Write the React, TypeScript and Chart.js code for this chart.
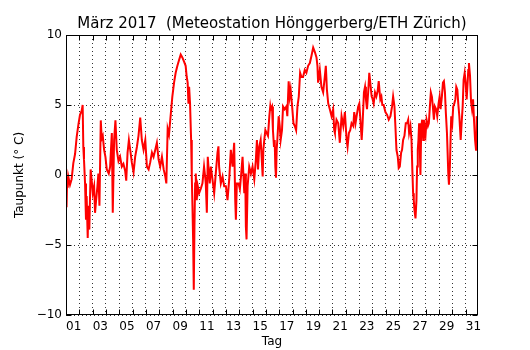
import React, { useEffect, useRef } from 'react';
import { Chart, registerables } from 'chart.js';

Chart.register(...registerables);

// Time in days since 1 March 2017 00:00, dew point in °C
const week1Days = [
  0.00, 0.04, 0.09, 0.13, 0.17, 0.30, 0.42, 0.55, 0.68, 0.80,
  0.93, 1.05, 1.18, 1.25, 1.30, 1.35, 1.43, 1.50, 1.55, 1.63,
  1.68, 1.75, 1.85, 1.93, 2.01, 2.11, 2.18, 2.26, 2.36, 2.43,
  2.51, 2.61, 2.68, 2.76, 2.86, 2.96, 3.06, 3.21, 3.31, 3.44,
  3.51, 3.61, 3.71, 3.81, 3.94, 4.06, 4.19, 4.31, 4.44, 4.52,
  4.62, 4.72, 4.82, 4.94, 5.07, 5.19, 5.32, 5.44, 5.57, 5.69,
  5.82, 5.95, 6.07, 6.20, 6.32, 6.45, 6.57, 6.70, 6.82, 6.95,
  7.07, 7.20, 7.33, 7.45, 7.53, 7.63,
];
const week1Dew = [
  -0.3, -2.3, -0.1, -0.9, -0.1, -0.7, -0.3, 0.85, 1.5, 2.7,
  3.6, 4.3, 4.6, 5.0, 2.0, 1.1, -0.6, -3.2, -1.5, -4.5,
  -2.2, -3.9, 0.4, -0.4, -1.3, -0.8, -2.7, -1.8, -0.8, 0.1,
  -2.2, 3.9, 2.6, 2.8, 1.8, 1.3, 0.4, 0.1, 0.6, 3.0,
  -2.7, 2.5, 3.9, 1.8, 1.0, 1.3, 0.6, 0.8, 0.3, -0.4,
  1.6, 2.5, 1.8, 0.9, 0.2, 1.3, 2.0, 2.8, 4.1, 2.5,
  1.8, 2.5, 0.6, 0.4, 0.9, 1.6, 1.3, 1.8, 2.3, 1.1,
  0.6, 1.3, 0.4, -0.1, -0.6, 3.3,
];

const week2Days = [
  7.73, 7.85, 7.98, 8.11, 8.23, 8.36, 8.48, 8.61, 8.73, 8.86,
  8.98, 9.06, 9.13, 9.19, 9.24, 9.31, 9.39, 9.44, 9.49, 9.54,
  9.59, 9.64, 9.69, 9.74, 9.81, 9.89, 9.99, 10.11, 10.24, 10.36,
  10.44, 10.49, 10.57, 10.64, 10.69, 10.79, 10.87, 10.99, 11.12, 11.24,
  11.37, 11.44, 11.49, 11.62, 11.75, 11.87, 12.00, 12.12, 12.25, 12.37,
  12.50, 12.62, 12.70, 12.75, 12.82, 12.95, 13.05, 13.15, 13.25, 13.38,
  13.45, 13.50, 13.55, 13.63, 13.75, 13.88, 14.00, 14.13, 14.25, 14.33,
  14.41, 14.50, 14.61, 14.68, 14.76, 14.81, 14.88, 14.96, 15.06, 15.16,
  15.26, 15.33,
];
const week2Dew = [
  2.9, 4.2, 5.6, 6.6, 7.3, 7.8, 8.2, 8.6, 8.4, 8.1,
  7.8, 7.0, 6.6, 5.1, 6.3, 5.1, 2.5, -0.1, -2.2, -4.6,
  -8.2, -3.7, -0.6, 0.1, -1.8, -0.8, -1.3, -1.0, -0.6, 0.6,
  -0.1, -0.6, -2.7, 1.3, 0.6, -0.6, 0.6, -0.3, -1.3, 0.1,
  1.6, 2.05, 0.6, -0.6, -0.1, -0.8, -0.8, -1.8, -0.3, 1.8,
  0.6, 2.3, -1.8, -3.2, -0.6, -0.6, -1.0, 0.1, 1.3, -1.3,
  0.1, -3.7, -4.6, -0.8, 0.6, 0.1, 0.6, -0.3, 1.1, 2.5,
  0.4, 2.0, 2.5, 1.3, -0.1, 1.8, 2.5, 3.2, 3.0, 2.8,
  4.2, 4.9,
];

const week3Days = [
  15.36, 15.46, 15.53, 15.61, 15.66, 15.71, 15.76, 15.81, 15.86, 15.96,
  16.04, 16.11, 16.21, 16.29, 16.41, 16.54, 16.61, 16.71, 16.79, 16.86,
  16.97, 17.07, 17.17, 17.27, 17.37, 17.47, 17.57, 17.67, 17.79, 17.92,
  18.04, 18.17, 18.30, 18.42, 18.55, 18.67, 18.80, 18.87, 18.92, 19.05,
  19.17, 19.30, 19.42, 19.50, 19.58, 19.68, 19.80, 19.93, 20.05, 20.13,
  20.18, 20.30, 20.43, 20.55, 20.68, 20.81, 20.93, 21.06, 21.13, 21.23,
  21.33, 21.43, 21.56, 21.63, 21.73, 21.81, 21.93, 22.01, 22.09, 22.19,
  22.26, 22.36, 22.44, 22.51, 22.59, 22.69, 22.76, 22.94,
];
const week3Dew = [
  4.7, 4.9, 3.2, 2.0, 2.5, 0.6, -0.2, 1.8, 2.5, 4.2,
  3.5, 2.5, 3.2, 4.9, 4.7, 4.9, 4.2, 6.7, 5.6, 6.1,
  4.9, 3.7, 3.5, 3.2, 4.9, 5.6, 7.3, 7.0, 7.0, 7.5,
  7.3, 7.8, 8.0, 8.5, 9.1, 8.8, 8.4, 7.8, 6.6, 7.5,
  6.3, 5.9, 7.0, 7.8, 6.1, 5.1, 4.7, 4.2, 4.7, 3.2,
  3.0, 3.95, 3.7, 2.3, 4.2, 3.5, 4.5, 2.5, 2.0, 3.0,
  3.2, 3.7, 3.5, 4.5, 3.7, 4.2, 4.9, 5.1, 4.0, 2.5,
  3.7, 5.9, 6.3, 5.4, 4.7, 6.1, 7.3, 5.6,
];

const week4Days = [
  22.99, 23.09, 23.19, 23.29, 23.39, 23.47, 23.54, 23.59, 23.67, 23.74,
  23.84, 23.97, 24.10, 24.22, 24.35, 24.47, 24.55, 24.65, 24.72, 24.80,
  24.90, 24.97, 25.05, 25.15, 25.22, 25.30, 25.40, 25.50, 25.60, 25.68,
  25.75, 25.85, 25.93, 26.00, 26.05, 26.10, 26.15, 26.23, 26.30, 26.35,
  26.40, 26.45, 26.50, 26.55, 26.60, 26.66, 26.73, 26.81, 26.86, 26.93,
  26.98, 27.06, 27.16, 27.23, 27.31, 27.38, 27.46, 27.53, 27.61, 27.68,
  27.78, 27.86, 27.96, 28.04, 28.11, 28.21, 28.29, 28.36, 28.44, 28.51,
  28.59, 28.64, 28.69, 28.74, 28.81, 28.86, 28.91, 28.99, 29.06, 29.14,
  29.22, 29.29, 29.37, 29.44, 29.52, 29.62, 29.69, 29.77, 29.84, 29.92,
  29.99, 30.07, 30.14, 30.19, 30.24, 30.32, 30.40, 30.47, 30.55, 30.62,
  30.70, 30.77, 30.82, 30.90,
];
const week4Dew = [
  5.5, 5.1, 5.9, 5.6, 6.0, 6.7, 5.9, 5.4, 5.6, 5.0,
  5.0, 4.5, 4.3, 3.95, 4.2, 4.9, 5.6, 4.9, 3.5, 1.8,
  1.3, 0.5, 0.6, 1.6, 1.8, 2.5, 2.8, 3.7, 3.7, 3.95,
  3.0, 3.5, 2.5, 0.15, -1.3, -1.8, -2.5, -3.1, -1.8, 0.6,
  1.8, 2.5, 3.7, 2.0, 0.0, 3.4, 3.95, 2.5, 3.95, 3.0,
  2.8, 3.95, 3.5, 3.7, 4.9, 5.9, 5.6, 4.9, 3.95, 4.9,
  4.7, 4.2, 5.1, 5.6, 4.7, 5.6, 6.6, 6.7, 5.9, 4.4,
  3.0, 1.6, 0.1, -0.7, 0.6, 2.5, 4.2, 3.7, 4.9, 5.1,
  5.4, 6.3, 6.1, 5.1, 4.2, 2.5, 3.7, 4.9, 6.8, 7.3,
  6.6, 5.4, 6.6, 7.5, 8.0, 7.1, 5.2, 4.7, 5.4, 3.95,
  2.5, 1.8, 4.2, 3.5,
];

const dayLabels = [
  '01', '02', '03', '04', '05', '06', '07', '08', '09', '10',
  '11', '12', '13', '14', '15', '16', '17', '18', '19', '20',
  '21', '22', '23', '24', '25', '26', '27', '28', '29', '30', '31',
];
const yTickValues = [-10, -5, 0, 5, 10];

const TITLE = 'März 2017  (Meteostation Hönggerberg/ETH Zürich)';
const X_TITLE = 'Tag';
const Y_TITLE = 'Taupunkt (° C)';

const FONT = 'DejaVu Sans';

function buildPoints() {
  const pts: { x: number; y: number }[] = [];
  const groups: [number[], number[]][] = [
    [week1Days, week1Dew],
    [week2Days, week2Dew],
    [week3Days, week3Dew],
    [week4Days, week4Dew],
  ];
  for (const [ds, vs] of groups) {
    const n = Math.min(ds.length, vs.length);
    for (let i = 0; i < n; i++) pts.push({ x: ds[i], y: vs[i] });
  }
  return pts;
}

const frameAndTicks = {
  id: 'frameAndTicks',
  afterDatasetsDraw(chart: any) {
    const { ctx, chartArea } = chart;
    const xs = chart.scales.x;
    const ys = chart.scales.y;
    const L = Math.round(chartArea.left) + 0.5;
    const R = Math.round(chartArea.right) - 0.5;
    const T = Math.round(chartArea.top) + 0.5;
    const B = Math.round(chartArea.bottom) - 0.5;
    const tl = 5;
    ctx.save();
    ctx.strokeStyle = '#000';
    ctx.lineWidth = 1;
    ctx.beginPath();
    for (let i = 0; i < dayLabels.length; i++) {
      if (i > xs.max) break;
      const px = Math.round(xs.getPixelForValue(i)) + 0.5;
      ctx.moveTo(px, B);
      ctx.lineTo(px, B - tl);
      ctx.moveTo(px, T);
      ctx.lineTo(px, T + tl);
    }
    for (const v of yTickValues) {
      const py = Math.round(ys.getPixelForValue(v)) + 0.5;
      ctx.moveTo(L, py);
      ctx.lineTo(L + tl, py);
      ctx.moveTo(R, py);
      ctx.lineTo(R - tl, py);
    }
    ctx.stroke();
    ctx.lineWidth = 1;
    ctx.strokeRect(L, T, R - L, B - T);
    ctx.restore();
  },
};

export default function App() {
  const canvasRef = useRef<HTMLCanvasElement | null>(null);

  useEffect(() => {
    const canvas = canvasRef.current;
    if (!canvas) return;
    Chart.defaults.font.family = FONT;
    Chart.defaults.color = '#000';
    const chart = new Chart(canvas, {
      type: 'line',
      data: {
        datasets: [
          {
            data: buildPoints(),
            borderColor: '#ff0000',
            backgroundColor: '#ff0000',
            borderWidth: 2,
            pointRadius: 0,
            tension: 0,
            fill: false,
          },
        ],
      },
      options: {
        responsive: false,
        animation: false,
        devicePixelRatio: 1,
        layout: { padding: { left: 0, right: 52, top: 0, bottom: 0 } },
        plugins: {
          legend: { display: false },
          tooltip: { enabled: false },
          title: {
            display: true,
            text: TITLE,
            fullSize: false,
            color: '#000',
            font: { family: FONT, size: 15, weight: 'normal', lineHeight: 1.2 },
            padding: { top: 15, bottom: 2 },
          },
        },
        scales: {
          x: {
            type: 'linear',
            min: 0,
            max: 30.92,
            afterFit: (s: any) => {
              s.height = 35;
            },
            grid: {
              color: 'rgba(0,0,0,0.8)',
              lineWidth: 1,
              drawTicks: false,
            },
            border: { display: false, dash: [1, 3] },
            ticks: {
              stepSize: 1,
              autoSkip: false,
              includeBounds: false,
              maxRotation: 0,
              minRotation: 0,
              align: 'start',
              padding: 5,
              color: '#000',
              font: { family: FONT, size: 12 },
              callback: (value: any) => {
                const i = Math.round(Number(value));
                return i % 2 === 0 ? dayLabels[i] ?? '' : '';
              },
            },
            title: {
              display: true,
              text: X_TITLE,
              color: '#000',
              font: { family: FONT, size: 12 },
              padding: { top: 0, bottom: 1 },
            },
          },
          y: {
            type: 'linear',
            min: -10,
            max: 10,
            afterFit: (s: any) => {
              s.width = 66;
            },
            grid: {
              color: 'rgba(0,0,0,0.8)',
              lineWidth: 1,
              drawTicks: false,
            },
            border: { display: false, dash: [1, 3] },
            ticks: {
              stepSize: 5,
              padding: 4,
              color: '#000',
              font: { family: FONT, size: 12 },
              callback: (value: any) => {
                const v = Number(value);
                return v < 0 ? '\u2212' + Math.abs(v) : String(v);
              },
            },
            title: {
              display: true,
              text: Y_TITLE,
              color: '#000',
              font: { family: FONT, size: 12 },
              padding: { top: 13, bottom: 0 },
            },
          },
        },
      },
      plugins: [frameAndTicks],
    });
    return () => chart.destroy();
  }, []);

  return (
    <div style={{ position: 'absolute', left: 0, top: 0, width: 530, height: 350, background: '#fff' }}>
      <canvas ref={canvasRef} width={530} height={350} style={{ display: 'block', width: 530, height: 350 }} />
    </div>
  );
}
